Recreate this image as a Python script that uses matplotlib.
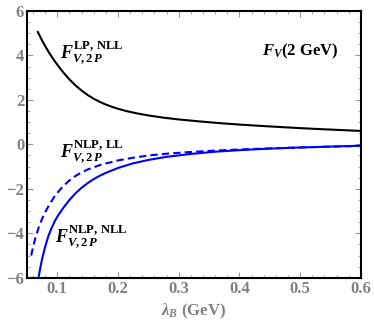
import numpy as np
import matplotlib
matplotlib.use('Agg')
import matplotlib.pyplot as plt
from matplotlib.ticker import MultipleLocator

plt.rcParams['mathtext.fontset'] = 'custom'
plt.rcParams['mathtext.rm'] = 'Liberation Serif:bold'
plt.rcParams['mathtext.it'] = 'Liberation Serif:bold:italic'
plt.rcParams['mathtext.bf'] = 'Liberation Serif:bold'
plt.rcParams['font.family'] = 'Liberation Serif'

# F_V LP, NLL (black solid)
lam_lp = [0.068, 0.074, 0.08, 0.087, 0.094, 0.1, 0.11, 0.12, 0.13, 0.14, 0.15, 0.16,
          0.17, 0.18, 0.19, 0.2, 0.215, 0.23, 0.25, 0.275, 0.3, 0.335, 0.37, 0.4,
          0.435, 0.467, 0.5, 0.534, 0.57, 0.6]
f_lp = [5.05, 4.72, 4.42, 4.10, 3.81, 3.58, 3.23, 2.92, 2.65, 2.42, 2.22, 2.05,
        1.91, 1.79, 1.69, 1.60, 1.49, 1.40, 1.30, 1.20, 1.12, 1.03, 0.95, 0.89,
        0.83, 0.78, 0.73, 0.685, 0.64, 0.605]

# F_V NLP, NLL (blue solid)
lam_nll = [0.069, 0.072, 0.075, 0.08, 0.085, 0.09, 0.095, 0.1, 0.11, 0.12, 0.13,
           0.14, 0.15, 0.16, 0.17, 0.18, 0.2, 0.225, 0.25, 0.28, 0.32, 0.36, 0.4,
           0.45, 0.5, 0.55, 0.6]
f_nll = [-6.0, -5.55, -5.15, -4.6, -4.15, -3.8, -3.5, -3.25, -2.85, -2.5, -2.2,
         -1.95, -1.74, -1.56, -1.41, -1.28, -1.06, -0.85, -0.70, -0.56, -0.43, -0.33, -0.26,
         -0.19, -0.14, -0.10, -0.06]

# F_V NLP, LL (blue dashed)
lam_ll = [0.057, 0.06, 0.064, 0.068, 0.072, 0.076, 0.08, 0.087, 0.095, 0.1, 0.11,
          0.12, 0.13, 0.14, 0.15, 0.17, 0.2, 0.225, 0.25, 0.28, 0.32, 0.36, 0.4,
          0.45, 0.5, 0.55, 0.6]
f_ll = [-5.0, -4.62, -4.2, -3.85, -3.55, -3.28, -3.05, -2.7, -2.36, -2.18, -1.87,
        -1.62, -1.42, -1.26, -1.13, -0.93, -0.72, -0.60, -0.50, -0.42, -0.34, -0.28, -0.23,
        -0.18, -0.14, -0.10, -0.07]

fig = plt.figure(figsize=(3.74, 3.30), dpi=100)
ax = fig.add_axes([0.072, 0.158, 0.893, 0.809])

ax.plot(lam_lp, f_lp, color='black', lw=1.5)
ax.plot(lam_nll, f_nll, color='#0000ff', lw=1.5)
ax.plot(lam_ll, f_ll, color='#0000ff', lw=1.5, ls=(0, (3.5, 2)))

ax.set_xlim(0.05, 0.6)
ax.set_ylim(-6, 6)
ax.xaxis.set_major_locator(MultipleLocator(0.1))
ax.xaxis.set_minor_locator(MultipleLocator(0.02))
ax.yaxis.set_major_locator(MultipleLocator(2))
ax.yaxis.set_minor_locator(MultipleLocator(0.5))
ax.tick_params(which='both', direction='in', top=True, right=True, color='#999999')
ax.tick_params(which='major', length=4, width=0.8, labelsize=12, labelcolor='#808080', pad=2)
ax.tick_params(which='minor', length=2, width=0.6)
for lab in ax.get_xticklabels() + ax.get_yticklabels():
    lab.set_fontweight('bold')
for s in ax.spines.values():
    s.set_linewidth(1.5)

ax.set_xlabel(r'$\lambda_B\ \mathrm{(GeV)}$', fontsize=12, color='#808080', labelpad=4)

ax.text(0.104, 4.1, r'$F_{V,2\,P}^{\mathrm{LP,\,NLL}}$', fontsize=13, va='center')
ax.text(0.5, 4.2, r'$F_V\mathrm{(2\ GeV)}$', fontsize=12, ha='center', va='center')
ax.text(0.104, -0.35, r'$F_{V,2\,P}^{\mathrm{NLP,\,LL}}$', fontsize=13, va='center')
ax.text(0.097, -4.15, r'$F_{V,2\,P}^{\mathrm{NLP,\,NLL}}$', fontsize=13, va='center')

fig.savefig('out.png', dpi=100)
